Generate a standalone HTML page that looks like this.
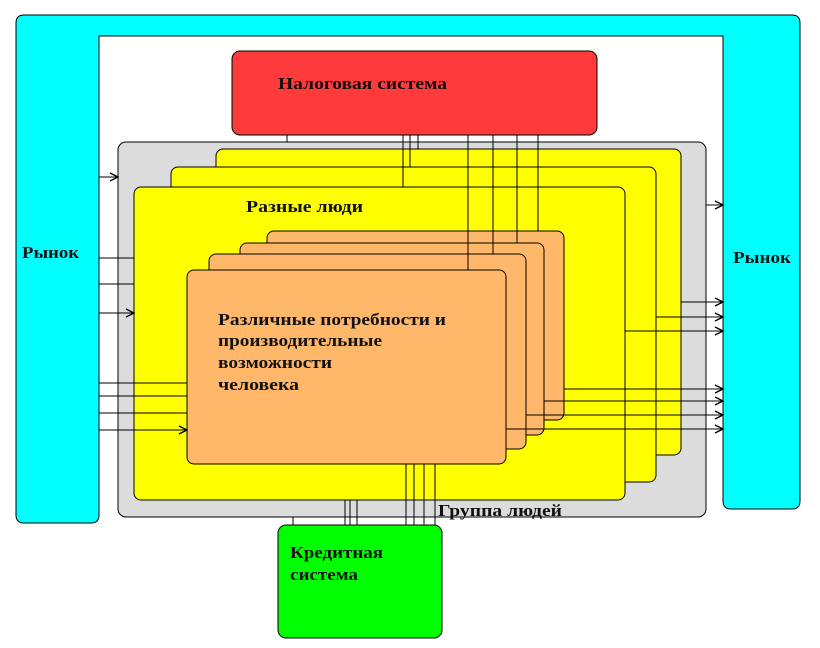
<!DOCTYPE html>
<html><head><meta charset="utf-8"><style>body{margin:0;background:#fff}svg{display:block}text{font-family:"Liberation Serif",serif;font-weight:bold;font-size:17px;fill:#111}</style></head><body>
<svg width="820" height="648" viewBox="0 0 820 648" xmlns="http://www.w3.org/2000/svg" font-family="Liberation Serif, serif">
<defs><marker id="a" markerWidth="10" markerHeight="10" refX="9" refY="5" orient="auto" markerUnits="userSpaceOnUse"><path d="M1,1 L9,5 L1,9" fill="none" stroke="#000" stroke-width="1.3"/></marker></defs>
<g stroke="#000" stroke-width="1">
<path d="M24,15 H792 Q800,15 800,23 V501 Q800,509 792,509 H731 Q723,509 723,501 V36 H99 V515 Q99,523 91,523 H24 Q16,523 16,515 V23 Q16,15 24,15 Z" fill="#00ffff"/>
<rect x="232" y="51" width="365" height="84" rx="8" fill="#ff3a3a"/>
<rect x="118" y="142" width="588" height="375" rx="8" fill="#dcdcdc"/>
<rect x="216" y="149" width="465" height="306" rx="7" fill="#ffff00"/>
<rect x="171" y="167" width="485" height="315" rx="7" fill="#ffff00"/>
<rect x="134" y="187" width="491" height="313" rx="7" fill="#ffff00"/>
<rect x="267" y="231" width="297" height="189" rx="7" fill="#ffb86a"/>
<rect x="240" y="243" width="304" height="192" rx="7" fill="#ffb86a"/>
<rect x="209" y="254" width="317" height="195" rx="7" fill="#ffb86a"/>
<rect x="187" y="270" width="319" height="194" rx="7" fill="#ffb86a"/>
<rect x="278" y="525" width="164" height="113" rx="8" fill="#00ff00"/>
<g fill="none">
<path d="M287,135V142 M403,135V187 M410,135V167 M418,135V149 M468,135V270 M493,135V254 M517,135V243 M538,135V231"/>
<path d="M293,517V525 M345,500V525 M350,500V525 M357,500V525 M406,464V525 M414,464V525 M424,464V525 M435,464V525"/>
<path d="M99,258H134 M99,284H134 M99,383H187 M99,396H187 M99,413H187"/>
</g>
<g fill="none" marker-end="url(#a)">
<line x1="99" y1="177" x2="118" y2="177"/>
<line x1="99" y1="313" x2="134" y2="313"/>
<line x1="99" y1="430" x2="187" y2="430"/>
<line x1="706" y1="205" x2="723" y2="205"/>
<line x1="681" y1="302" x2="723" y2="302"/>
<line x1="656" y1="317" x2="723" y2="317"/>
<line x1="625" y1="331" x2="723" y2="331"/>
<line x1="564" y1="389" x2="723" y2="389"/>
<line x1="544" y1="401" x2="723" y2="401"/>
<line x1="526" y1="415" x2="723" y2="415"/>
<line x1="506" y1="429" x2="723" y2="429"/>
</g></g>
<text x="278" y="89" textLength="169" lengthAdjust="spacingAndGlyphs">Налоговая система</text>
<text x="22" y="258" textLength="57" lengthAdjust="spacingAndGlyphs">Рынок</text>
<text x="733" y="263" textLength="58" lengthAdjust="spacingAndGlyphs">Рынок</text>
<text x="246" y="212" textLength="117" lengthAdjust="spacingAndGlyphs">Разные люди</text>
<text x="218" y="325" textLength="228" lengthAdjust="spacingAndGlyphs">Различные потребности и</text>
<text x="218" y="346" textLength="164" lengthAdjust="spacingAndGlyphs">производительные</text>
<text x="218" y="368" textLength="114" lengthAdjust="spacingAndGlyphs">возможности</text>
<text x="218" y="390" textLength="81" lengthAdjust="spacingAndGlyphs">человека</text>
<text x="438" y="516" textLength="124" lengthAdjust="spacingAndGlyphs">Группа людей</text>
<text x="290" y="558" textLength="93" lengthAdjust="spacingAndGlyphs">Кредитная</text>
<text x="290" y="580" textLength="68" lengthAdjust="spacingAndGlyphs">система</text>
</svg></body></html>
